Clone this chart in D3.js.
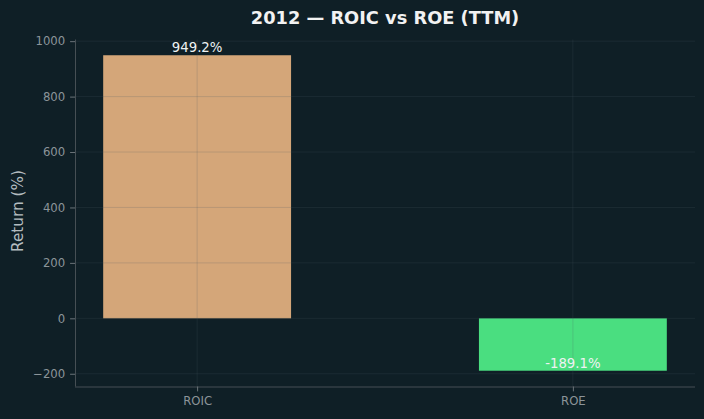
<!DOCTYPE html>
<html>
<head>
<meta charset="utf-8">
<script src="https://cdn.jsdelivr.net/npm/d3@7"></script>
<style>
  body { margin: 0; background: #0f1f26; }
  text { font-family: "DejaVu Sans", sans-serif; }
</style>
</head>
<body>
<div id="chart"></div>
<script>
var categories = ["ROIC", "ROE"];
var values = [949.2, -189.1];
var barColors = ["#d4a679", "#4ade80"];
var yTicks = [-200, 0, 200, 400, 600, 800, 1000];
var titleText = "2012 \u2014 ROIC vs ROE (TTM)";

var width = 704, height = 419;
var plotLeft = 75, plotRight = 695, plotTop = 39.5, plotBottom = 386.5;

var svg = d3.select("#chart").append("svg")
	.attr("width", width)
	.attr("height", height);

svg.append("rect").attr("width", width).attr("height", height).attr("fill", "#0f1f26");

var x = d3.scaleLinear().domain([-0.325, 1.325]).range([plotLeft, plotRight]);
var y = d3.scaleLinear().domain([-246, 1006]).range([plotBottom, plotTop]);
var barW = 0.5;

// bars
svg.selectAll(".bar").data(values).enter().append("rect")
	.attr("class", "bar")
	.attr("x", function(d, i) { return x(i - barW / 2); })
	.attr("width", function(d, i) { return x(i + barW / 2) - x(i - barW / 2); })
	.attr("y", function(d) { return y(Math.max(0, d)); })
	.attr("height", function(d) { return Math.abs(y(d) - y(0)); })
	.attr("fill", function(d, i) { return barColors[i]; });

// grid (drawn over bars)
var grid = svg.append("g");
grid.selectAll(".hg").data(yTicks).enter().append("line")
	.attr("x1", plotLeft).attr("x2", plotRight)
	.attr("y1", function(d) { return y(d); }).attr("y2", function(d) { return y(d); })
	.attr("stroke", "#4a5a62").attr("stroke-opacity", 0.25).attr("stroke-width", 0.8);
grid.selectAll(".vg").data(categories).enter().append("line")
	.attr("x1", function(d, i) { return x(i); }).attr("x2", function(d, i) { return x(i); })
	.attr("y1", plotTop).attr("y2", plotBottom)
	.attr("stroke", "#4a5a62").attr("stroke-opacity", 0.25).attr("stroke-width", 0.8);

// axes
var yAxis = d3.axisLeft(y).tickValues(yTicks).tickSize(4.9).tickPadding(4.9)
	.tickFormat(function(d) { return d < 0 ? "\u2212" + Math.abs(d) : d; });
var gy = svg.append("g").attr("transform", "translate(" + plotLeft + ",0)").call(yAxis);

var xAxis = d3.axisBottom(x).tickValues([0, 1]).tickSize(4.9).tickPadding(4.9)
	.tickFormat(function(d) { return categories[d]; });
var gx = svg.append("g").attr("transform", "translate(0," + plotBottom + ")").call(xAxis);

[gy, gx].forEach(function(g) {
	g.select(".domain").attr("stroke", "#464f54").attr("stroke-width", 1);
	g.selectAll(".tick line").attr("stroke", "#6b7479");
	g.selectAll(".tick text").attr("fill", "#8b9499").attr("font-size", 11.7)
		.style("font-family", "DejaVu Sans, sans-serif");
});
gy.select(".domain").attr("d", "M0.5," + plotTop + "V" + plotBottom);
gx.select(".domain").attr("d", "M" + plotLeft + ",0.5H" + plotRight);

// value labels
svg.selectAll(".vl").data(values).enter().append("text")
	.attr("x", function(d, i) { return x(i); })
	.attr("y", function(d) { return y(d) - 3; })
	.attr("text-anchor", "middle")
	.attr("font-size", 13.3)
	.attr("fill", "#eef2f2")
	.text(function(d) { return d.toFixed(1) + "%"; });

// y label
svg.append("text")
	.attr("transform", "translate(22.5,211) rotate(-90)")
	.attr("text-anchor", "middle")
	.attr("font-size", 15.3)
	.attr("fill", "#b4bcc0")
	.text("Return (%)");

// title
svg.append("text")
	.attr("x", (plotLeft + plotRight) / 2)
	.attr("y", 24)
	.attr("text-anchor", "middle")
	.attr("font-size", 17.8)
	.attr("font-weight", "bold")
	.attr("fill", "#f2f2f2")
	.text(titleText);
</script>
</body>
</html>
